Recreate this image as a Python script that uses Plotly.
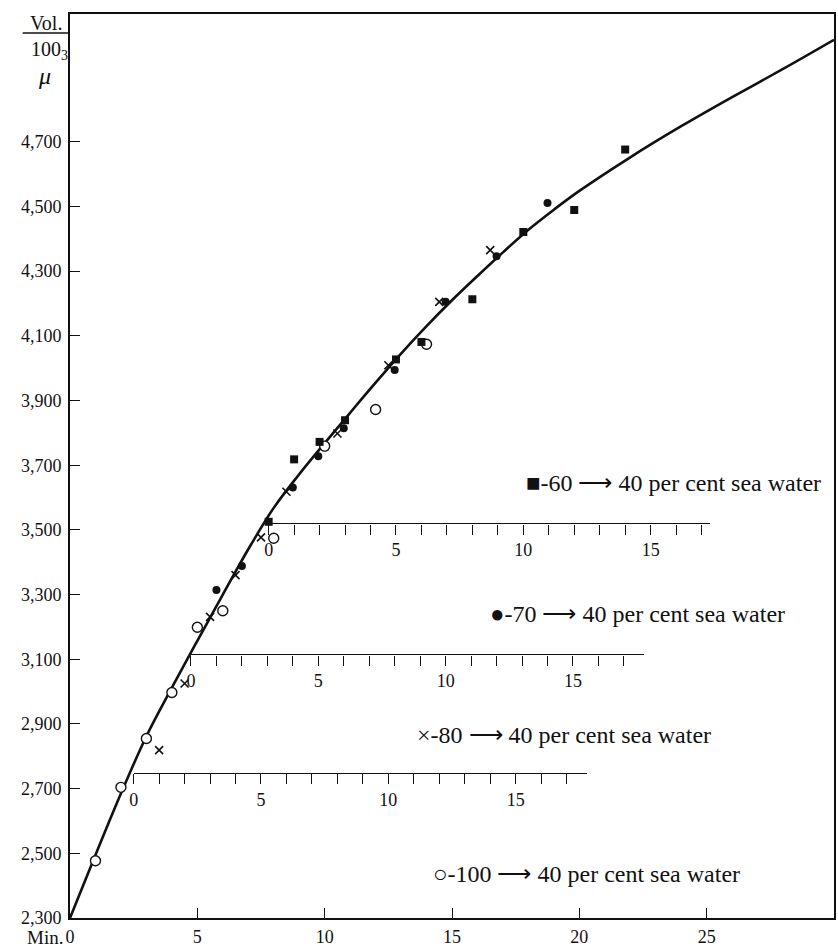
import plotly.graph_objects as go

# ---------------- data ----------------
# 100 -> 40 per cent sea water (open circles), plotted on the main time axis
t100 = [1, 2, 3, 4, 5, 6, 8, 10, 12, 14]
v100 = [2477, 2704, 2855, 2997, 3199, 3250, 3474, 3759, 3872, 4074]

# 80 -> 40 per cent sea water (crosses), own time axis
t80 = [1, 2, 3, 4, 5, 6, 8, 10, 12, 14]
v80 = [2819, 3025, 3231, 3360, 3477, 3618, 3798, 4009, 4205, 4365]

# 70 -> 40 per cent sea water (filled circles), own time axis
t70 = [1, 2, 4, 5, 6, 8, 10, 12, 14]
v70 = [3314, 3388, 3631, 3728, 3814, 3994, 4205, 4346, 4511]

# 60 -> 40 per cent sea water (filled squares), own time axis
t60 = [0, 1, 2, 3, 5, 6, 8, 10, 12, 14]
v60 = [3525, 3718, 3772, 3839, 4027, 4081, 4213, 4421, 4489, 4676]

# smooth curve drawn through the points
curve_t = [0, 1, 2, 3, 4, 5, 6, 7, 8, 9, 10, 11, 12, 13, 14, 15, 16, 17, 18,
           19, 20, 22, 24, 26, 28, 30]
curve_v = [2300, 2495, 2685, 2862, 3012, 3157, 3300, 3440, 3568, 3672, 3768,
           3862, 3955, 4045, 4130, 4210, 4285, 4358, 4428, 4490, 4548, 4652,
           4748, 4838, 4925, 5015]

# main axes
x_range = [0, 30]
y_range = [2300, 5095]
x_ticks = [0, 5, 10, 15, 20, 25]
y_ticks = [2300, 2500, 2700, 2900, 3100, 3300, 3500, 3700, 3900, 4100, 4300, 4500, 4700]
y_ticktext = ["2,300", "2,500", "2,700", "2,900", "3,100", "3,300", "3,500",
              "3,700", "3,900", "4,100", "4,300", "4,500", "4,700"]

# secondary time axes: start (min on main axis), volume level, length (min)
sub_names = ["60", "70", "80"]
sub_start = [7.8, 4.75, 2.5]
sub_level = [3520, 3115, 2748]
sub_length = [17.35, 17.8, 17.8]

legend_text = [
    "■-60 ⟶ 40 per cent sea water",
    "●-70 ⟶ 40 per cent sea water",
    "×-80 ⟶ 40 per cent sea water",
    "○-100 ⟶ 40 per cent sea water",
]
legend_x = [29.55, 28.15, 25.25, 26.4]
legend_y = [3645, 3240, 2866, 2436]

FONT = "Liberation Serif"
INK = "#111111"
CLEAR = "rgba(0,0,0,0)"

fig = go.Figure()

fig.add_trace(go.Scatter(x=curve_t, y=curve_v, mode="lines",
                         line=dict(color=INK, width=2.6, shape="spline", smoothing=1.0),
                         hoverinfo="skip", showlegend=False))

fig.add_trace(go.Scatter(x=t100, y=v100, mode="markers", cliponaxis=False,
                         marker=dict(symbol="circle", size=10, color="white",
                                     line=dict(color=INK, width=1.4)),
                         showlegend=False))

# secondary axes + their series
sub_t = [t60, t70, t80]
sub_v = [v60, v70, v80]
markers = [
    dict(symbol="square", size=8, color=INK),
    dict(symbol="circle", size=8, color=INK),
    dict(symbol="x-thin", size=8, color=INK, line=dict(color=INK, width=1.6)),
]

span = x_range[1] - x_range[0]
yspan = y_range[1] - y_range[0]
layout_axes = {}
for i, name in enumerate(sub_names):
    ax = i + 2
    layout_axes[f"xaxis{ax}"] = dict(
        domain=[sub_start[i] / span, (sub_start[i] + sub_length[i]) / span],
        range=[0, sub_length[i]],
        anchor="free",
        position=(sub_level[i] - y_range[0]) / yspan,
        automargin=False,
        showline=True, linecolor=INK, linewidth=1.4,
        showgrid=False, zeroline=False,
        tickmode="array", tickvals=[0, 5, 10, 15], ticktext=["0", "5", "10", "15"],
        ticks="outside", ticklen=10, tickwidth=1.3, tickcolor=INK,
        minor=dict(dtick=1, tick0=0, ticks="outside", ticklen=10, tickwidth=1.3, tickcolor=INK),
        tickfont=dict(family=FONT, size=18, color=INK),
        ticklabelstandoff=0,
    )
    fig.add_trace(go.Scatter(x=sub_t[i], y=sub_v[i], mode="markers", cliponaxis=False,
                             xaxis=f"x{ax}", yaxis="y",
                             marker=markers[i], showlegend=False))

for txt, lx, ly in zip(legend_text, legend_x, legend_y):
    fig.add_annotation(x=lx, y=ly, xref="x", yref="y", text=txt, showarrow=False,
                       xanchor="right", yanchor="middle",
                       font=dict(family=FONT, size=24, color=INK))

# y-axis unit label
fig.add_annotation(x=-0.032, y=1.0, xref="paper", yref="paper", text="Vol.",
                   showarrow=False, xanchor="center", yanchor="middle", yshift=-9,
                   font=dict(family=FONT, size=20, color=INK))
fig.add_shape(type="line", xref="paper", yref="paper", x0=-0.062, x1=-0.002,
              y0=0.979, y1=0.979, line=dict(color=INK, width=1.5))
fig.add_annotation(x=-0.027, y=1.0, xref="paper", yref="paper", text="100<sub>3</sub>",
                   showarrow=False, xanchor="center", yanchor="middle", yshift=-36,
                   font=dict(family=FONT, size=20, color=INK))
fig.add_annotation(x=-0.033, y=1.0, xref="paper", yref="paper", text="<i>μ</i>",
                   showarrow=False, xanchor="center", yanchor="middle", yshift=-62,
                   font=dict(family=FONT, size=24, color=INK))
fig.add_annotation(x=0, y=0, xref="paper", yref="paper", text="Min.",
                   showarrow=False, xanchor="right", yanchor="middle", yshift=-19,
                   xshift=-5, font=dict(family=FONT, size=19, color=INK))

fig.update_layout(
    width=838, height=948,
    margin=dict(l=70, r=4, t=14, b=30),
    paper_bgcolor="white", plot_bgcolor=CLEAR,
    showlegend=False,
    font=dict(family=FONT, color=INK),
    xaxis=dict(range=x_range, showline=True, mirror=True, linecolor=INK, linewidth=1.6,
               showgrid=False, zeroline=False, automargin=False,
               tickmode="array", tickvals=x_ticks, ticktext=[str(v) for v in x_ticks],
               ticks="inside", ticklen=10, tickwidth=1.3, tickcolor=INK,
               tickfont=dict(family=FONT, size=18, color=INK), ticklabelstandoff=2),
    yaxis=dict(range=y_range, showline=True, mirror=True, linecolor=INK, linewidth=1.6,
               showgrid=False, zeroline=False, automargin=False,
               tickmode="array", tickvals=y_ticks, ticktext=y_ticktext,
               ticks="inside", ticklen=10, tickwidth=1.3, tickcolor=INK,
               tickfont=dict(family=FONT, size=18, color=INK), ticklabelstandoff=3),
    **layout_axes,
)

fig.write_html("out.html", config={"displayModeBar": False},
               post_script="document.body.style.margin='0';document.body.style.overflow='hidden';")
